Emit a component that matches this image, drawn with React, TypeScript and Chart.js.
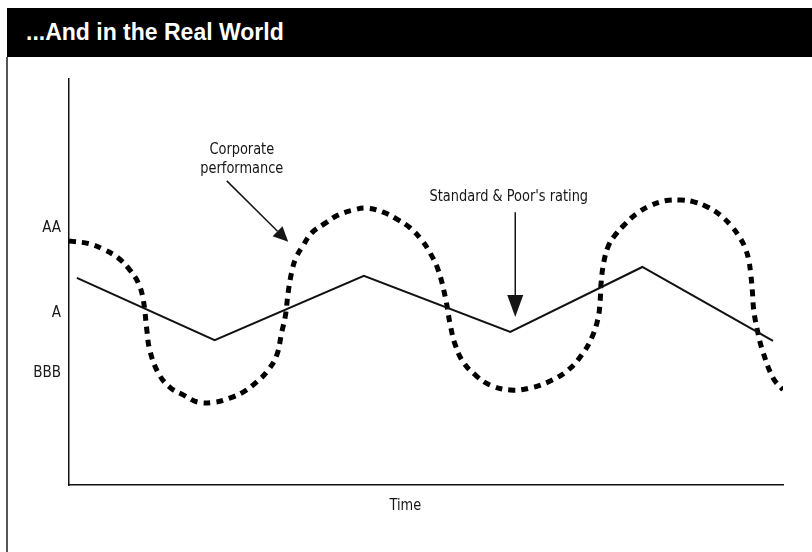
import React, { useEffect, useRef } from "react";
import { Chart, registerables } from "chart.js";

Chart.register(...registerables);

const FONT = '"Liberation Sans Narrow", "DejaVu Sans Condensed", "Roboto Condensed", sans-serif';
const TITLE_FONT = '"Liberation Sans", Arial, Helvetica, sans-serif';

const titleText = "...And in the Real World";
const xAxisLabel = "Time";

// Rating ticks on the vertical axis
const ratingLabels = ["BBB", "A", "AA"];
const ratingValues = [27.6, 42.4, 63.3];

// Standard & Poor's rating (solid line)
const ratingX = [1.1, 20.4, 41.3, 61.8, 80.3, 98.6];
const ratingY = [51.0, 35.7, 51.5, 37.7, 53.7, 35.5];

// Corporate performance (dotted curve)
const perfX = [
  0, 2.9, 5.0, 6.9, 8.5, 9.7, 10.4, 10.9, 11.3, 12.5, 14.1, 16.0, 18.1, 20.4, 22.5, 24.4, 26.3, 27.9,
  29.1, 29.8, 30.3, 30.7, 31.2, 31.8, 32.8, 34.0, 35.9, 37.7, 39.8, 41.7, 44.0, 46.1, 47.8, 49.4, 50.6,
  51.7, 52.7, 53.4, 54.1, 55.2, 56.9, 59.0, 61.8, 64.6, 67.4, 69.9, 71.8, 73.2, 74.1, 74.4, 74.5, 74.9,
  75.6, 76.6, 77.9, 79.4, 81.3, 83.5, 85.6, 87.4, 89.4, 91.2, 92.9, 94.0, 94.7, 95.2, 95.5, 95.7, 95.9,
  96.4, 97.1, 98.6, 100,
];
const perfY = [
  60.1, 59.4, 57.9, 55.9, 53.0, 49.8, 45.6, 38.2, 33.3, 27.6, 24.1, 22.2, 20.4, 20.4, 21.4, 22.9, 25.4, 28.3,
  32.0, 37.7, 41.6, 47.5, 52.5, 56.0, 59.0, 62.1, 64.5, 66.5, 67.7, 68.2, 67.2, 65.3, 63.3, 60.3, 57.1,
  53.0, 46.3, 39.4, 34.5, 30.3, 27.1, 24.6, 23.4, 23.9, 25.6, 28.3, 32.0, 36.2, 41.1, 45.6, 49.3, 54.9,
  59.1, 61.8, 64.3, 66.7, 68.7, 70.0, 70.2, 69.8, 68.5, 66.5, 63.5, 60.8, 58.4, 55.4, 51.7, 48.0, 43.1,
  38.2, 33.3, 26.4, 23.4,
];

// Annotation anchors (data units)
const perfNote = { lines: ["Corporate", "performance"], x: 24.2, y: [82.5, 77.8] };
const perfArrow = { x1: 22.1, y1: 74.9, x2: 30.7, y2: 59.9 };
const ratingNote = { text: "Standard & Poor's rating", x: 61.6, y: 70.9 };
const ratingArrow = { x1: 62.5, y1: 67.2, x2: 62.5, y2: 41.4 };

function drawArrow(ctx: CanvasRenderingContext2D, x1: number, y1: number, x2: number, y2: number, len: number, half: number) {
  const ang = Math.atan2(y2 - y1, x2 - x1);
  const bx = x2 - len * Math.cos(ang);
  const by = y2 - len * Math.sin(ang);
  ctx.beginPath();
  ctx.moveTo(x1, y1);
  ctx.lineTo(bx, by);
  ctx.stroke();
  ctx.beginPath();
  ctx.moveTo(x2, y2);
  ctx.lineTo(bx + half * Math.sin(ang), by - half * Math.cos(ang));
  ctx.lineTo(bx - half * Math.sin(ang), by + half * Math.cos(ang));
  ctx.closePath();
  ctx.fill();
}

function fillNarrow(ctx: CanvasRenderingContext2D, text: string, cx: number, cy: number) {
  ctx.save();
  ctx.translate(cx, cy);
  ctx.scale(0.9, 1);
  ctx.fillText(text, 0, 0);
  ctx.restore();
}

const annotationPlugin = {
  id: "annotations",
  afterDatasetsDraw(chart: any) {
    const { ctx, scales, chartArea } = chart;
    const x = scales.x;
    const y = scales.y;
    ctx.save();
    ctx.fillStyle = "#151515";
    ctx.strokeStyle = "#151515";
    ctx.font = `16px ${FONT}`;
    ctx.textAlign = "center";
    ctx.textBaseline = "middle";
    perfNote.lines.forEach((t, i) => {
      fillNarrow(ctx, t, x.getPixelForValue(perfNote.x), y.getPixelForValue(perfNote.y[i]));
    });
    fillNarrow(ctx, ratingNote.text, x.getPixelForValue(ratingNote.x), y.getPixelForValue(ratingNote.y));
    fillNarrow(ctx, xAxisLabel, x.getPixelForValue(47.1), chartArea.bottom + 21);
    ctx.lineWidth = 1.5;
    drawArrow(
      ctx,
      x.getPixelForValue(perfArrow.x1), y.getPixelForValue(perfArrow.y1),
      x.getPixelForValue(perfArrow.x2), y.getPixelForValue(perfArrow.y2),
      15, 7
    );
    drawArrow(
      ctx,
      x.getPixelForValue(ratingArrow.x1), y.getPixelForValue(ratingArrow.y1),
      x.getPixelForValue(ratingArrow.x2), y.getPixelForValue(ratingArrow.y2),
      22, 8
    );
    ctx.restore();
  },
};

export default function App() {
  const canvasRef = useRef<HTMLCanvasElement | null>(null);

  useEffect(() => {
    if (!canvasRef.current) return;
    const chart = new Chart(canvasRef.current, {
      type: "line",
      data: {
        datasets: [
          {
            label: "Standard & Poor's rating",
            data: ratingX.map((v, i) => ({ x: v, y: ratingY[i] })),
            borderColor: "#111",
            borderWidth: 2,
            pointRadius: 0,
            tension: 0,
            fill: false,
          },
          {
            label: "Corporate performance",
            data: perfX.map((v, i) => ({ x: v, y: perfY[i] })),
            borderColor: "#000",
            borderWidth: 5,
            borderDash: [7, 6],
            borderCapStyle: "butt",
            pointRadius: 0,
            tension: 0.4,
            fill: false,
          },
        ],
      },
      options: {
        animation: false,
        responsive: false,
        events: [],
        layout: { padding: { left: 0, top: 79, right: 29, bottom: 0 } },
        plugins: { legend: { display: false }, tooltip: { enabled: false }, title: { display: false } },
        scales: {
          x: {
            type: "linear",
            min: 0,
            max: 100,
            grid: { display: false, drawTicks: false },
            ticks: { display: false },
            border: { display: true, color: "#111", width: 1.5 },
            afterFit: (s: any) => { s.height = 67; },
          },
          y: {
            type: "linear",
            min: 0,
            max: 100,
            grid: { display: false, drawTicks: false },
            border: { display: true, color: "#111", width: 1.5 },
            afterBuildTicks: (s: any) => { s.ticks = ratingValues.map((v) => ({ value: v })); },
            ticks: {
              padding: 8,
              color: "#1a1a1a",
              font: { family: FONT, size: 15 },
              callback: (v: any) => {
                const i = ratingValues.indexOf(Number(v));
                return i >= 0 ? ratingLabels[i] : "";
              },
            },
            afterFit: (s: any) => { s.width = 69; },
          },
        },
      },
      plugins: [annotationPlugin],
    } as any);
    return () => chart.destroy();
  }, []);

  return (
    <div style={{ position: "fixed", left: 0, top: 0, width: 812, height: 552, background: "#fff", overflow: "hidden" }}>
      <div
        style={{
          position: "absolute", left: 7, top: 8, width: 805, height: 49, background: "#000",
          color: "#fff", fontFamily: TITLE_FONT, fontWeight: "bold", fontSize: 23,
          lineHeight: "49px", paddingLeft: 19, boxSizing: "border-box", whiteSpace: "nowrap",
        }}
      >
        {titleText}
      </div>
      <div style={{ position: "absolute", left: 6, top: 57, width: 2, height: 495, background: "#555" }} />
      <canvas ref={canvasRef} width={812} height={552} style={{ position: "absolute", left: 0, top: 0 }} />
    </div>
  );
}
